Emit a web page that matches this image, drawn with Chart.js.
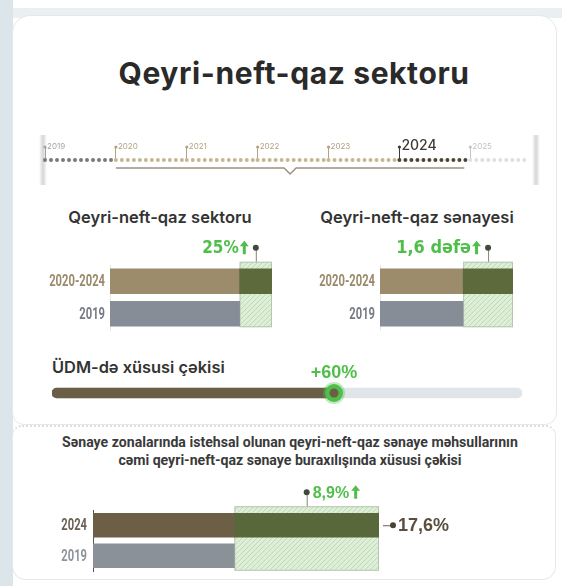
<!DOCTYPE html>
<html>
<head>
<meta charset="utf-8">
<script src="https://cdn.jsdelivr.net/npm/chart.js@4.4.1/dist/chart.umd.min.js"></script>
<style>
html, body { margin: 0; padding: 0; }
body { width: 562px; height: 586px; position: relative; overflow: hidden; background: #fff; font-family: Inter, "Noto Sans", sans-serif; }
.stripL { position: absolute; left: 0; top: 0; width: 13px; height: 586px; background: #dce5e9; }
.stripT { position: absolute; left: 0; top: 8px; width: 562px; height: 10px; background: #eaeff1; }
.card { position: absolute; background: #fff; border: 1px solid #e2e8eb; box-sizing: border-box; }
#card1 { left: 12px; top: 15px; width: 545px; height: 410px; border-radius: 18px 18px 12px 12px; }
#card2 { left: 12px; top: 425px; width: 544px; height: 155px; border-radius: 10px 10px 14px 14px; border-top: 2px dotted #d9dfe2; }
.txt { position: absolute; white-space: nowrap; }
.fade { position: absolute; top: 135px; width: 8px; height: 50px; background: linear-gradient(90deg, rgba(170,170,170,0), rgba(150,150,150,.4), rgba(170,170,170,0)); }
#zoneTitle { left: 30px; width: 520px; text-align: center; top: 433px; line-height: 19px; font: 700 15px Roboto, sans-serif; color: #3a3a3a; transform-origin: 260px 0; }
#zoneTitle span { display: inline-block; }
canvas { position: absolute; }
</style>
</head>
<body>
<div class="stripT"></div>
<div class="stripL"></div>
<div class="card" id="card1"></div>
<div class="card" id="card2"></div>

<div class="txt" style="left:0;width:588px;text-align:center;top:55px;font:700 30px Inter;letter-spacing:0.6px;color:#2a2a2a;">Qeyri-neft-qaz sektoru</div>

<div class="fade" style="left:39px;"></div>
<div class="fade" style="left:532px;"></div>
<canvas id="timeline" width="515" height="45" style="left:30px;top:135px;"></canvas>

<div class="txt" style="left:60px;width:200px;text-align:center;top:207px;font:600 16.5px Inter;color:#333;">Qeyri-neft-qaz sektoru</div>
<div class="txt" style="left:317px;width:200px;text-align:center;top:207px;font:600 16.5px Inter;color:#333;">Qeyri-neft-qaz sənayesi</div>
<canvas id="sector" width="260" height="110" style="left:30px;top:230px;"></canvas>
<canvas id="industry" width="262" height="110" style="left:290px;top:230px;"></canvas>

<div class="txt" style="left:52px;top:357px;font:600 16.4px Inter;color:#333;">ÜDM-də xüsusi çəkisi</div>
<canvas id="gdp" width="500" height="50" style="left:40px;top:360px;"></canvas>

<div class="txt" id="zoneTitle"><span id="zoneLine1">Sənaye zonalarında istehsal olunan qeyri-neft-qaz sənaye məhsullarının</span><br><span>cəmi qeyri-neft-qaz sənaye buraxılışında xüsusi çəkisi</span></div>
<canvas id="zones" width="460" height="104" style="left:30px;top:470px;"></canvas>

<script>
// timeline
const years = [2019, 2020, 2021, 2022, 2023, 2024, 2025];
const timelineEnd = 2025.8;
const periodStart = 2020;
const periodEnd = 2024;
const yearColors = ['#7c7974', '#c6b692', '#c6b692', '#c6b692', '#c6b692', '#4e4433', '#dde1e3'];
const yearLabelColors = ['#a3a3a3', '#b3a382', '#b3a382', '#b3a382', '#b3a382', '#3f3a33', '#c0c4c6'];

// qeyri-neft-qaz sektoru (2019 = 100)
const sectorLabels = ['2020-2024', '2019'];
const sectorValues = [125, 100];
const sectorGrowth = '25%';

// qeyri-neft-qaz sənayesi (2019 = 1)
const industryLabels = ['2020-2024', '2019'];
const industryValues = [1.6, 1];
const industryGrowth = '1,6 dəfə';

// ÜDM-də xüsusi çəkisi
const gdpShareValue = 60;
const gdpShareMax = 100;
const gdpShareLabel = '+60%';

// sənaye zonalarının payı, %
const zoneLabels = ['2024', '2019'];
const zoneValues = [17.6, 8.7];
const zoneGrowth = '8,9%';
const zoneTotal = '17,6%';

const NARROW = '"Liberation Sans Narrow", "DejaVu Sans Condensed", sans-serif';
const GREEN = '#4fbf4a';
Chart.defaults.font.family = 'Inter, "Noto Sans", sans-serif';

// squeeze the long subtitle to the width it has in the picture
const zt = document.getElementById('zoneTitle');
zt.style.transform = 'scaleX(' + (456 / document.getElementById('zoneLine1').offsetWidth) + ')';

function upArrow(ctx, x, yc, color) {
  ctx.fillStyle = color;
  ctx.beginPath();
  ctx.moveTo(x + 4.5, yc - 7);
  ctx.lineTo(x + 9, yc - 1.5);
  ctx.lineTo(x + 6, yc - 1.5);
  ctx.lineTo(x + 6, yc + 6.5);
  ctx.lineTo(x + 3, yc + 6.5);
  ctx.lineTo(x + 3, yc - 1.5);
  ctx.lineTo(x, yc - 1.5);
  ctx.closePath();
  ctx.fill();
}

function hatch(ctx) {
  const c = document.createElement('canvas');
  c.width = c.height = 5;
  const g = c.getContext('2d');
  g.fillStyle = '#ddefd6';
  g.fillRect(0, 0, 5, 5);
  g.strokeStyle = '#c2d8ba';
  g.lineWidth = 1;
  g.beginPath();
  g.moveTo(0, 5); g.lineTo(5, 0);
  g.moveTo(-1, 1); g.lineTo(1, -1);
  g.moveTo(4, 6); g.lineTo(6, 4);
  g.stroke();
  return ctx.createPattern(c, 'repeat');
}

const bracketPlugin = {
  id: 'bracket',
  afterDraw(chart) {
    const {ctx, chartArea} = chart;
    const x = chart.scales.x;
    years.forEach((v, i) => {
      ctx.fillStyle = yearLabelColors[i];
      ctx.beginPath();
      ctx.arc(x.getPixelForValue(v), chartArea.top - 13, 1.6, 0, Math.PI * 2);
      ctx.fill();
    });
    const x1 = x.getPixelForValue(periodStart);
    const x2 = x.getPixelForValue(periodEnd + 1) - 6;
    const mid = (x1 + x2) / 2;
    const y = chartArea.top + 8;
    ctx.strokeStyle = '#9c9082';
    ctx.lineWidth = 1.5;
    ctx.beginPath();
    ctx.moveTo(x1, y);
    ctx.lineTo(mid - 6, y);
    ctx.lineTo(mid, y + 6);
    ctx.lineTo(mid + 6, y);
    ctx.lineTo(x2, y);
    ctx.stroke();
  }
};

new Chart(document.getElementById('timeline'), {
  type: 'line',
  data: {
    datasets: years.map((v, i) => ({
      data: [{x: v, y: 0}, {x: i < years.length - 1 ? years[i + 1] : timelineEnd, y: 0}],
      borderColor: yearColors[i],
      borderWidth: 4,
      borderDash: [0, 6],
      borderCapStyle: 'round',
      pointRadius: 0,
      clip: false
    }))
  },
  options: {
    responsive: false,
    animation: false,
    layout: {padding: {left: 15, right: 18, top: 0, bottom: 0}},
    plugins: {legend: {display: false}, tooltip: {enabled: false}},
    scales: {
      x: {
        type: 'linear', position: 'top', min: 2019, max: timelineEnd,
        afterFit: s => { s.height = 25; },
        afterBuildTicks: s => { s.ticks = years.map(v => ({value: v})); },
        grid: {drawOnChartArea: false, tickLength: 14, color: c => yearLabelColors[years.indexOf(c.tick.value)]},
        border: {display: false},
        ticks: {
          align: 'start', padding: -5, labelOffset: 2, autoSkip: false, maxRotation: 0,
          callback: v => String(v),
          color: c => yearLabelColors[years.indexOf(c.tick.value)],
          font: c => (c.tick && c.tick.value === periodEnd) ? {size: 14, weight: '500', lineHeight: 0.8} : {size: 8}
        }
      },
      y: {display: false, min: -1, max: 0}
    }
  },
  plugins: [bracketPlugin]
});

function compareChart(id, o) {
  const ref = o.values[1];
  const annot = {
    id: 'annot',
    beforeDatasetsDraw(chart) {
      const {ctx} = chart;
      const x = chart.scales.x;
      const bars = chart.getDatasetMeta(1).data;
      const x1 = x.getPixelForValue(ref), x2 = x.getPixelForValue(o.values[0]);
      const top = bars[0].y - bars[0].height / 2 - 7;
      const bottom = bars[1].y + bars[1].height / 2 + o.boxBottom;
      ctx.save();
      ctx.fillStyle = hatch(ctx);
      ctx.fillRect(x1, top, x2 - x1, bottom - top);
      ctx.strokeStyle = '#b7c6b1';
      ctx.lineWidth = 1;
      ctx.strokeRect(x1 + 0.5, top + 0.5, x2 - x1 - 1, bottom - top - 1);
      ctx.restore();
    },
    afterDatasetsDraw(chart) {
      const {ctx} = chart;
      const x = chart.scales.x;
      const bars = chart.getDatasetMeta(1).data;
      const x1 = x.getPixelForValue(ref), x2 = x.getPixelForValue(o.values[0]);
      const top = bars[0].y - bars[0].height / 2 - 7;
      const cx = (x1 + x2) / 2, cy = top - 14;
      ctx.save();
      ctx.strokeStyle = '#7d8a78';
      ctx.lineWidth = 1;
      ctx.beginPath();
      ctx.moveTo(cx + 0.5, cy);
      ctx.lineTo(cx + 0.5, top);
      ctx.stroke();
      ctx.fillStyle = '#3e4a3c';
      ctx.beginPath();
      ctx.arc(cx, cy, 3, 0, Math.PI * 2);
      ctx.fill();
      ctx.font = o.growthFont;
      ctx.textBaseline = 'middle';
      ctx.fillStyle = GREEN;
      const w = ctx.measureText(o.growth).width;
      if (o.side === 'left') {
        const ax = cx - 7 - 9;
        ctx.textAlign = 'right';
        ctx.fillText(o.growth, ax - 1, cy + 1);
        upArrow(ctx, ax, cy, GREEN);
      } else {
        ctx.textAlign = 'left';
        ctx.fillText(o.growth, cx + 6, cy + 1);
        upArrow(ctx, cx + 6 + w + 2, cy, GREEN);
      }
      if (o.total) {
        const b = bars[0];
        const ex = x2 + 4, dx = x2 + 14;
        ctx.strokeStyle = '#6a6153';
        ctx.beginPath();
        ctx.moveTo(ex, b.y + 0.5);
        ctx.lineTo(dx, b.y + 0.5);
        ctx.stroke();
        ctx.fillStyle = '#4a4236';
        ctx.beginPath();
        ctx.arc(dx, b.y, 3, 0, Math.PI * 2);
        ctx.fill();
        ctx.font = 'bold 18px "Liberation Sans", Arial, sans-serif';
        ctx.fillStyle = '#5a4f3d';
        ctx.textAlign = 'left';
        ctx.fillText(o.total, dx + 5, b.y + 1);
      }
      ctx.restore();
    },
    afterDraw(chart) {
      // category labels of the y scale, in a condensed cut
      const {ctx, chartArea} = chart;
      const y = chart.scales.y;
      ctx.save();
      ctx.font = 'bold 16px Roboto, sans-serif';
      ctx.textAlign = 'right';
      ctx.textBaseline = 'middle';
      y.ticks.forEach((t, i) => {
        ctx.save();
        ctx.translate(chartArea.left - o.labelGap, y.getPixelForTick(i) + 1);
        ctx.scale(0.7, 1);
        ctx.fillStyle = o.labelColors[i];
        ctx.fillText(y.getLabelForValue(t.value), 0, 0);
        ctx.restore();
      });
      ctx.restore();
    }
  };
  return new Chart(document.getElementById(id), {
    type: 'bar',
    data: {
      labels: o.labels,
      datasets: [
        {data: o.values.map(v => v > ref ? [ref, v] : null), backgroundColor: o.extraColor, barThickness: o.thick, grouped: false},
        {data: o.values.map(v => Math.min(v, ref)), backgroundColor: [o.topColor, o.baseColor], barThickness: o.thick, grouped: false}
      ]
    },
    options: {
      indexAxis: 'y',
      responsive: false,
      animation: false,
      layout: {padding: o.padding},
      plugins: {legend: {display: false}, tooltip: {enabled: false}},
      scales: {
        x: {display: false, min: 0, max: o.values[0]},
        y: {
          afterFit: s => { s.width = o.axisWidth; },
          grid: {display: false},
          border: {display: true, color: o.axisColor, width: 1},
          ticks: {display: false}
        }
      }
    },
    plugins: [annot]
  });
}

compareChart('sector', {
  labels: sectorLabels, values: sectorValues, growth: sectorGrowth, side: 'left',
  growthFont: 'bold 17px ' + NARROW,
  topColor: '#9c8c6c', baseColor: '#868d96', extraColor: '#5d6a3c',
  labelColors: ['#9a8a6a', '#767c84'], axisColor: '#e6e6e6',
  thick: 25, axisWidth: 80, boxBottom: 1, labelGap: 5,
  padding: {top: 35, bottom: 10, left: 0, right: 18}
});

compareChart('industry', {
  labels: industryLabels, values: industryValues, growth: industryGrowth, side: 'left',
  growthFont: 'bold 18px ' + NARROW,
  topColor: '#9c8c6c', baseColor: '#868d96', extraColor: '#5d6a3c',
  labelColors: ['#9a8a6a', '#767c84'], axisColor: '#e6e6e6',
  thick: 25, axisWidth: 90, boxBottom: 1, labelGap: 5,
  padding: {top: 35, bottom: 10, left: 0, right: 39}
});

compareChart('zones', {
  labels: zoneLabels, values: zoneValues, growth: zoneGrowth, side: 'right', total: zoneTotal,
  growthFont: 'bold 16px "Liberation Sans", Arial, sans-serif',
  topColor: '#6c5f46', baseColor: '#8a9199', extraColor: '#59683b',
  labelColors: ['#6a6255', '#8d949b'], axisColor: '#555',
  thick: 24, axisWidth: 63, boxBottom: 3, labelGap: 6,
  padding: {top: 40, bottom: 3, left: 0, right: 111}
});

const gdpDot = {
  id: 'gdpDot',
  afterDatasetsDraw(chart) {
    const {ctx} = chart;
    const b = chart.getDatasetMeta(0).data[0];
    const cx = chart.scales.x.getPixelForValue(gdpShareValue);
    ctx.save();
    ctx.fillStyle = 'rgba(79,191,74,0.35)';
    ctx.beginPath(); ctx.arc(cx, b.y, 11, 0, Math.PI * 2); ctx.fill();
    ctx.fillStyle = GREEN;
    ctx.beginPath(); ctx.arc(cx, b.y, 9, 0, Math.PI * 2); ctx.fill();
    ctx.fillStyle = '#6b5e46';
    ctx.beginPath(); ctx.arc(cx, b.y, 4.5, 0, Math.PI * 2); ctx.fill();
    ctx.font = 'bold 18px "Liberation Sans", Arial, sans-serif';
    ctx.fillStyle = GREEN;
    ctx.textAlign = 'center';
    ctx.textBaseline = 'middle';
    ctx.fillText(gdpShareLabel, cx, b.y - 20);
    ctx.restore();
  }
};

new Chart(document.getElementById('gdp'), {
  type: 'bar',
  data: {
    labels: ['ÜDM'],
    datasets: [
      {data: [gdpShareValue], backgroundColor: '#6b5e46', barThickness: 10, borderRadius: 5, borderSkipped: false, grouped: false},
      {data: [gdpShareMax], backgroundColor: '#dfe5e8', barThickness: 10, borderRadius: 5, borderSkipped: false, grouped: false}
    ]
  },
  options: {
    indexAxis: 'y',
    responsive: false,
    animation: false,
    layout: {padding: {left: 12, right: 18, top: 18, bottom: 2}},
    plugins: {legend: {display: false}, tooltip: {enabled: false}},
    scales: {
      x: {display: false, min: 0, max: gdpShareMax},
      y: {display: false}
    }
  },
  plugins: [gdpDot]
});
</script>
</body>
</html>
